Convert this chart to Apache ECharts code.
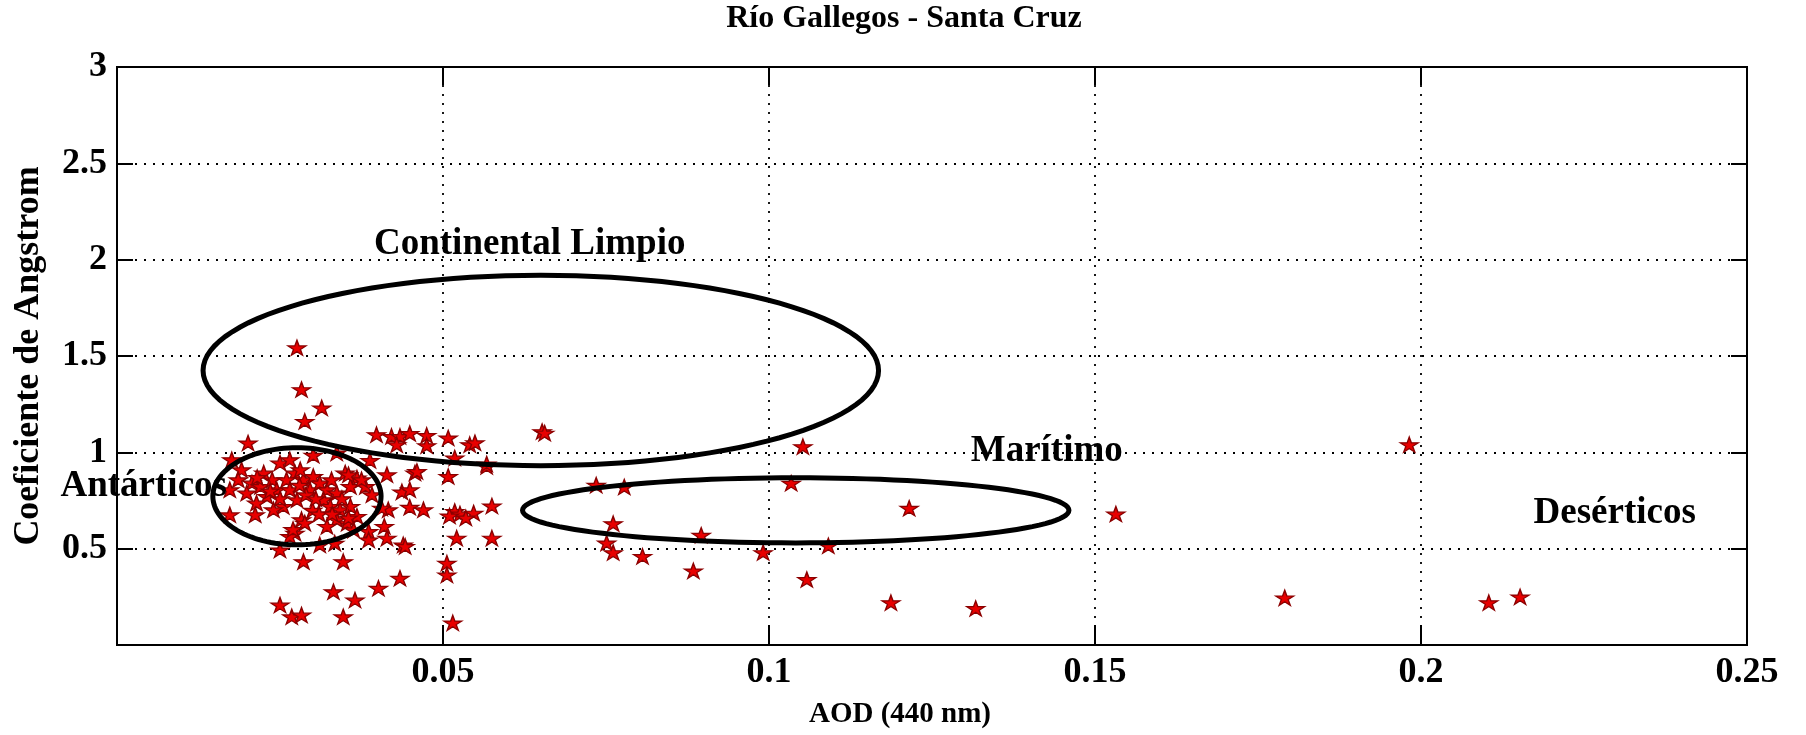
<!DOCTYPE html>
<html>
<head>
<meta charset="utf-8">
<title>Río Gallegos - Santa Cruz</title>
<script src="https://cdn.jsdelivr.net/npm/echarts@6/dist/echarts.min.js"></script>
<style>
html, body { margin: 0; padding: 0; background: #fff; }
#chart { width: 1806px; height: 735px; }
</style>
</head>
<body>
<div id="chart"></div>
<script>
var FONT = '"Liberation Serif", "Times New Roman", serif';

// [AOD (440 nm), Angstrom coefficient]
var upperPoints = [
    [0.0276, 1.543], [0.0283, 1.326], [0.0314, 1.231], [0.0288, 1.161],
    [0.0652, 1.108], [0.0656, 1.100]
];
var nearOnePoints = [
    [0.0201, 1.049], [0.0398, 1.092], [0.0421, 1.083], [0.0434, 1.083], [0.0449, 1.098],
    [0.0475, 1.088], [0.0475, 1.035], [0.0429, 1.040], [0.0508, 1.075], [0.0541, 1.040],
    [0.0549, 1.050], [0.0301, 0.985], [0.0337, 0.997], [0.0388, 0.958], [0.0176, 0.962],
    [0.0567, 0.927], [0.0518, 0.971], [0.0508, 0.875], [0.0457, 0.893]
];
var clusterPoints = [
    [0.0191, 0.910], [0.0186, 0.858], [0.0207, 0.841], [0.0199, 0.789], [0.0220, 0.823],
    [0.0230, 0.771], [0.0214, 0.737], [0.0238, 0.858], [0.0250, 0.945], [0.0265, 0.962],
    [0.0273, 0.893], [0.0260, 0.858], [0.0245, 0.806], [0.0265, 0.806], [0.0276, 0.754],
    [0.0255, 0.720], [0.0240, 0.702], [0.0286, 0.858], [0.0301, 0.875], [0.0296, 0.806],
    [0.0311, 0.841], [0.0322, 0.806], [0.0329, 0.858], [0.0337, 0.789], [0.0317, 0.754],
    [0.0327, 0.720], [0.0342, 0.702], [0.0358, 0.720], [0.0368, 0.668], [0.0337, 0.651],
    [0.0322, 0.616], [0.0353, 0.633], [0.0363, 0.598], [0.0273, 0.581], [0.0265, 0.564],
    [0.0283, 0.651], [0.0350, 0.893], [0.0368, 0.867], [0.0358, 0.823], [0.0381, 0.823],
    [0.0281, 0.910], [0.0225, 0.893], [0.0173, 0.806], [0.0173, 0.676], [0.0212, 0.676],
    [0.0288, 0.633], [0.0270, 0.600], [0.0386, 0.590], [0.0410, 0.616], [0.0300, 0.700],
    [0.0310, 0.680], [0.0290, 0.780], [0.0250, 0.760], [0.0235, 0.800], [0.0305, 0.760],
    [0.0345, 0.760], [0.0330, 0.680], [0.0355, 0.660], [0.0215, 0.870], [0.0280, 0.830]
];
var midPoints = [
    [0.0460, 0.901], [0.0414, 0.884], [0.0355, 0.884], [0.0375, 0.858], [0.0437, 0.795],
    [0.0449, 0.806], [0.0391, 0.780], [0.0416, 0.702], [0.0449, 0.715], [0.0470, 0.702],
    [0.0518, 0.693], [0.0526, 0.680], [0.0547, 0.685], [0.0575, 0.722], [0.0521, 0.555],
    [0.0575, 0.555], [0.0506, 0.425], [0.0506, 0.364], [0.0515, 0.115], [0.0510, 0.670],
    [0.0535, 0.660], [0.0406, 0.711], [0.0439, 0.520], [0.0567, 0.940]
];
var lowPoints = [
    [0.0250, 0.494], [0.0286, 0.433], [0.0347, 0.433], [0.0311, 0.520], [0.0334, 0.529],
    [0.0386, 0.546], [0.0414, 0.555], [0.0442, 0.512], [0.0434, 0.347], [0.0401, 0.295],
    [0.0332, 0.277], [0.0365, 0.234], [0.0347, 0.147], [0.0250, 0.208], [0.0268, 0.147],
    [0.0283, 0.156]
];
var farPoints = [
    [0.0735, 0.830], [0.0778, 0.820], [0.1034, 0.840], [0.1052, 1.030], [0.1215, 0.710],
    [0.1532, 0.680], [0.0761, 0.630], [0.0896, 0.570], [0.0751, 0.530], [0.0761, 0.480],
    [0.0806, 0.460], [0.0884, 0.385], [0.0991, 0.480], [0.1091, 0.515], [0.1058, 0.340],
    [0.1187, 0.220], [0.1317, 0.190], [0.1791, 0.245], [0.1982, 1.040], [0.2104, 0.220],
    [0.2152, 0.250]
];

// aerosol regions: [centre AOD, centre Angstrom, half width, half height]
var regions = [
    [0.0650, 1.425, 0.0518, 0.494],
    [0.0276, 0.772, 0.0129, 0.252],
    [0.1041, 0.699, 0.0419, 0.169]
];
var regionNames = ['Continental Limpio', 'Antárticos', 'Marítimo', 'Desérticos'];
var regionNamePos = [[0.0633, 2.08], [0.0041, 0.822], [0.1426, 1.004], [0.2297, 0.681]];

var xRange = [0, 0.25, 0.05];
var yRange = [0, 3, 0.5];

var allPoints = upperPoints.concat(nearOnePoints, clusterPoints, midPoints, lowPoints, farPoints);

var chart = echarts.init(document.getElementById('chart'));

var tickFont = { fontFamily: FONT, fontWeight: 'bold', fontSize: 36, color: '#000' };
var dotted = { show: true, lineStyle: { color: '#000', width: 1.8, type: [2, 7] } };
var blackLine = { show: true, onZero: false, lineStyle: { color: '#000', width: 2 } };

var option = {
    animation: false,
    backgroundColor: '#fff',
    title: {
        text: 'Río Gallegos - Santa Cruz',
        left: 904,
        top: 3,
        padding: 0,
        textAlign: 'center',
        textStyle: { fontFamily: FONT, fontWeight: 'bold', fontSize: 32, color: '#000' }
    },
    grid: {
        left: 117, right: 59, top: 67, bottom: 90,
        show: true, borderColor: '#000', borderWidth: 2, backgroundColor: 'transparent'
    },
    xAxis: [
        {
            type: 'value', min: xRange[0], max: xRange[1], interval: xRange[2],
            axisLine: blackLine,
            axisTick: { inside: true, length: 20, lineStyle: { color: '#000', width: 2 } },
            axisLabel: Object.assign({ showMinLabel: false, margin: 10 }, tickFont),
            splitLine: dotted,
            name: 'AOD (440 nm)', nameLocation: 'middle', nameGap: 55,
            nameTextStyle: { fontFamily: FONT, fontWeight: 'bold', fontSize: 29, color: '#000', padding: [0, 64, 0, 0] }
        },
        {
            type: 'value', position: 'top', min: xRange[0], max: xRange[1], interval: xRange[2],
            axisLine: blackLine,
            axisTick: { inside: true, length: 18, lineStyle: { color: '#000', width: 2 } },
            axisLabel: { show: false },
            splitLine: { show: false }
        }
    ],
    yAxis: [
        {
            type: 'value', min: yRange[0], max: yRange[1], interval: yRange[2],
            axisLine: blackLine,
            axisTick: { inside: true, length: 16, lineStyle: { color: '#000', width: 2 } },
            axisLabel: Object.assign({ showMinLabel: false, margin: 10 }, tickFont),
            splitLine: dotted,
            name: 'Coeficiente de Angstrom', nameLocation: 'middle', nameGap: 70,
            nameTextStyle: { fontFamily: FONT, fontWeight: 'bold', fontSize: 36, color: '#000' }
        },
        {
            type: 'value', position: 'right', min: yRange[0], max: yRange[1], interval: yRange[2],
            axisLine: blackLine,
            axisTick: { inside: true, length: 16, lineStyle: { color: '#000', width: 2 } },
            axisLabel: { show: false },
            splitLine: { show: false }
        }
    ],
    series: [
        {
            name: 'AOD vs Angstrom',
            type: 'scatter',
            data: allPoints,
            symbol: 'path://M50 0L61.8 36.2H100L69.1 58.8L80.9 95.1L50 72.7L19.1 95.1L30.9 58.8L0 36.2H38.2Z',
            symbolSize: [18, 15],
            itemStyle: { color: '#e80000', borderColor: '#8b0000', borderWidth: 1.3, opacity: 1 },
            z: 3
        },
        {
            name: 'regiones',
            type: 'custom',
            data: regions,
            encode: { x: 0, y: 1 },
            silent: true,
            z: 4,
            renderItem: function (params, api) {
                var c = api.coord([api.value(0), api.value(1)]);
                var s = api.size([api.value(2), api.value(3)]);
                var pts = [];
                for (var i = 0; i < 120; i++) {
                    var a = i / 120 * Math.PI * 2;
                    pts.push([c[0] + s[0] * Math.cos(a), c[1] + s[1] * Math.sin(a)]);
                }
                return {
                    type: 'polygon',
                    shape: { points: pts },
                    style: { fill: 'none', stroke: '#000', lineWidth: 5 }
                };
            }
        },
        {
            name: 'nombres',
            type: 'custom',
            data: regionNamePos,
            encode: { x: 0, y: 1 },
            silent: true,
            z: 5,
            renderItem: function (params, api) {
                var c = api.coord([api.value(0), api.value(1)]);
                return {
                    type: 'text',
                    x: c[0],
                    y: c[1],
                    style: {
                        text: regionNames[params.dataIndex],
                        fontFamily: FONT, fontWeight: 'bold', fontSize: 37,
                        fill: '#000', align: 'center', verticalAlign: 'middle'
                    }
                };
            }
        }
    ]
};

chart.setOption(option);
</script>
</body>
</html>
